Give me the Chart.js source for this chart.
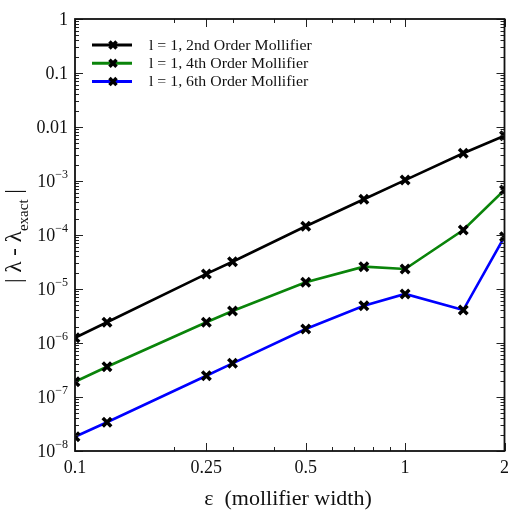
<!DOCTYPE html>
<html>
<head>
<meta charset="utf-8">
<script src="https://cdn.jsdelivr.net/npm/chart.js@4/dist/chart.umd.min.js"></script>
<style>
  html, body { margin: 0; padding: 0; background: #fff; }
  #wrap { width: 514px; height: 510px; position: relative; }
</style>
</head>
<body>
<div id="wrap"><canvas id="errChart"></canvas></div>
<script>
// mollifier width (x) and error values
const widths = [0.1, 0.125, 0.25, 0.3, 0.5, 0.75, 1, 1.5, 2];
const order2 = [1.25e-6, 2.42e-6, 1.9e-5, 3.2e-5, 1.45e-4, 4.6e-4, 1.04e-3, 3.26e-3, 6.9e-3];
const order4 = [1.92e-7, 3.64e-7, 2.42e-6, 3.92e-6, 1.33e-5, 2.59e-5, 2.35e-5, 1.24e-4, 6.8e-4];
const order6 = [1.84e-8, 3.4e-8, 2.48e-7, 4.2e-7, 1.82e-6, 4.9e-6, 8.1e-6, 4.08e-6, 9.3e-5];

const seriesLabels = ['l = 1, 2nd Order Mollifier', 'l = 1, 4th Order Mollifier', 'l = 1, 6th Order Mollifier'];
const seriesColors = ['#000000', '#0a840a', '#0000ff'];

const xMajorTicks = [0.1, 0.25, 0.5, 1, 2];
const xTickLabels = ['0.1', '0.25', '0.5', '1', '2'];
const xMinorTicks = [0.2, 0.3, 0.4, 0.6, 0.7, 0.8, 0.9];
const yExponents = [0, -1, -2, -3, -4, -5, -6, -7, -8];
const yPlainLabels = { '0': '1', '-1': '0.1', '-2': '0.01' };

const SERIF = "'Liberation Serif', 'Times New Roman', serif";

const drawMarker = (ctx, x, y, r) => {
    ctx.save();
    ctx.strokeStyle = '#000';
    ctx.lineWidth = 3.5;
    Chart.helpers.drawPoint(ctx, { pointStyle: 'crossRot', radius: r, borderWidth: 3.5 }, x, y);
    ctx.restore();
};

const frameAndLabels = {
    id: 'frameAndLabels',
    afterDraw(chart) {
        const { ctx, chartArea: a, scales } = chart;
        const xs = scales.x, ys = scales.y;
        ctx.save();

        // tick marks on all four sides
        ctx.strokeStyle = '#222';
        ctx.lineWidth = 1;
        const vTick = (px, len) => {
            ctx.beginPath();
            ctx.moveTo(px, a.bottom); ctx.lineTo(px, a.bottom - len);
            ctx.moveTo(px, a.top); ctx.lineTo(px, a.top + len);
            ctx.stroke();
        };
        const hTick = (py, len) => {
            ctx.beginPath();
            ctx.moveTo(a.left, py); ctx.lineTo(a.left + len, py);
            ctx.moveTo(a.right, py); ctx.lineTo(a.right - len, py);
            ctx.stroke();
        };
        xMajorTicks.forEach(v => vTick(Math.round(xs.getPixelForValue(v)) + 0.5, 8));
        xMinorTicks.forEach(v => vTick(Math.round(xs.getPixelForValue(v)) + 0.5, 4));
        yExponents.forEach(e => {
            hTick(Math.round(ys.getPixelForValue(Math.pow(10, e))) + 0.5, 8);
            if (e > -8) {
                for (let m = 2; m <= 9; m++) {
                    hTick(Math.round(ys.getPixelForValue(m * Math.pow(10, e - 1))) + 0.5, 4);
                }
            }
        });

        // frame
        ctx.lineWidth = 1.8;
        ctx.strokeStyle = '#111';
        ctx.strokeRect(a.left, a.top, a.right - a.left, a.bottom - a.top);

        // x tick labels
        ctx.fillStyle = '#111';
        ctx.font = '18px ' + SERIF;
        ctx.textAlign = 'center';
        ctx.textBaseline = 'alphabetic';
        xMajorTicks.forEach((v, i) => {
            ctx.fillText(xTickLabels[i], xs.getPixelForValue(v), a.bottom + 22);
        });

        // y tick labels
        const labelRight = a.left - 7;
        yExponents.forEach(e => {
            const py = ys.getPixelForValue(Math.pow(10, e));
            ctx.textAlign = 'right';
            if (yPlainLabels[e] !== undefined) {
                ctx.font = '18px ' + SERIF;
                ctx.fillText(yPlainLabels[e], labelRight, py + 6);
            } else {
                const sup = '\u2212' + (-e);
                ctx.font = '12px ' + SERIF;
                const supW = ctx.measureText(sup).width;
                ctx.fillText(sup, labelRight, py - 3);
                ctx.font = '18px ' + SERIF;
                ctx.fillText('10', labelRight - supW, py + 6);
            }
        });

        // x axis title
        ctx.font = '22px ' + SERIF;
        ctx.textAlign = 'center';
        ctx.fillText('\u03b5  (mollifier width)', 288, 505);

        // y axis title, rotated, with subscript
        ctx.save();
        ctx.translate(21, 236);
        ctx.rotate(-Math.PI / 2);
        const parts = [
            { t: '| \u03bb - \u03bb', size: 23, dy: 0 },
            { t: 'exact', size: 15, dy: 7 },
            { t: ' |', size: 23, dy: 0 }
        ];
        let total = 0;
        parts.forEach(p => { ctx.font = p.size + 'px ' + SERIF; p.w = ctx.measureText(p.t).width; total += p.w; });
        let u = -total / 2;
        ctx.textAlign = 'left';
        parts.forEach(p => {
            ctx.font = p.size + 'px ' + SERIF;
            ctx.fillText(p.t, u, p.dy);
            u += p.w;
        });
        ctx.restore();

        // legend
        seriesLabels.forEach((label, i) => {
            const ly = 45 + i * 18.3;
            ctx.strokeStyle = seriesColors[i];
            ctx.lineWidth = 3;
            ctx.beginPath();
            ctx.moveTo(92, ly); ctx.lineTo(132, ly);
            ctx.stroke();
            drawMarker(ctx, 113, ly, 5);
            ctx.save();
            ctx.fillStyle = '#111';
            ctx.font = '14px ' + SERIF;
            ctx.textAlign = 'left';
            ctx.textBaseline = 'middle';
            ctx.translate(149, ly + 1);
            ctx.scale(1.13, 1);
            ctx.fillText(label, 0, 0);
            ctx.restore();
        });

        ctx.restore();
    }
};

const makeSet = (values, i) => ({
    label: seriesLabels[i],
    data: widths.map((w, k) => ({ x: w, y: values[k] })),
    borderColor: seriesColors[i],
    borderWidth: 2.6,
    pointStyle: 'crossRot',
    pointRadius: 6,
    pointBorderWidth: 3.5,
    pointBorderColor: '#000',
    pointBackgroundColor: '#000',
    tension: 0,
    clip: 0
});

new Chart(document.getElementById('errChart'), {
    type: 'line',
    data: {
        datasets: [makeSet(order2, 0), makeSet(order4, 1), makeSet(order6, 2)]
    },
    options: {
        responsive: true,
        maintainAspectRatio: false,
        animation: false,
        layout: { padding: { left: 75, right: 7, top: 19, bottom: 59 } },
        plugins: {
            legend: { display: false },
            tooltip: { enabled: false }
        },
        scales: {
            x: { type: 'logarithmic', min: 0.1, max: 2, display: false },
            y: { type: 'logarithmic', min: 1e-8, max: 1, display: false }
        }
    },
    plugins: [frameAndLabels]
});
</script>
</body>
</html>
